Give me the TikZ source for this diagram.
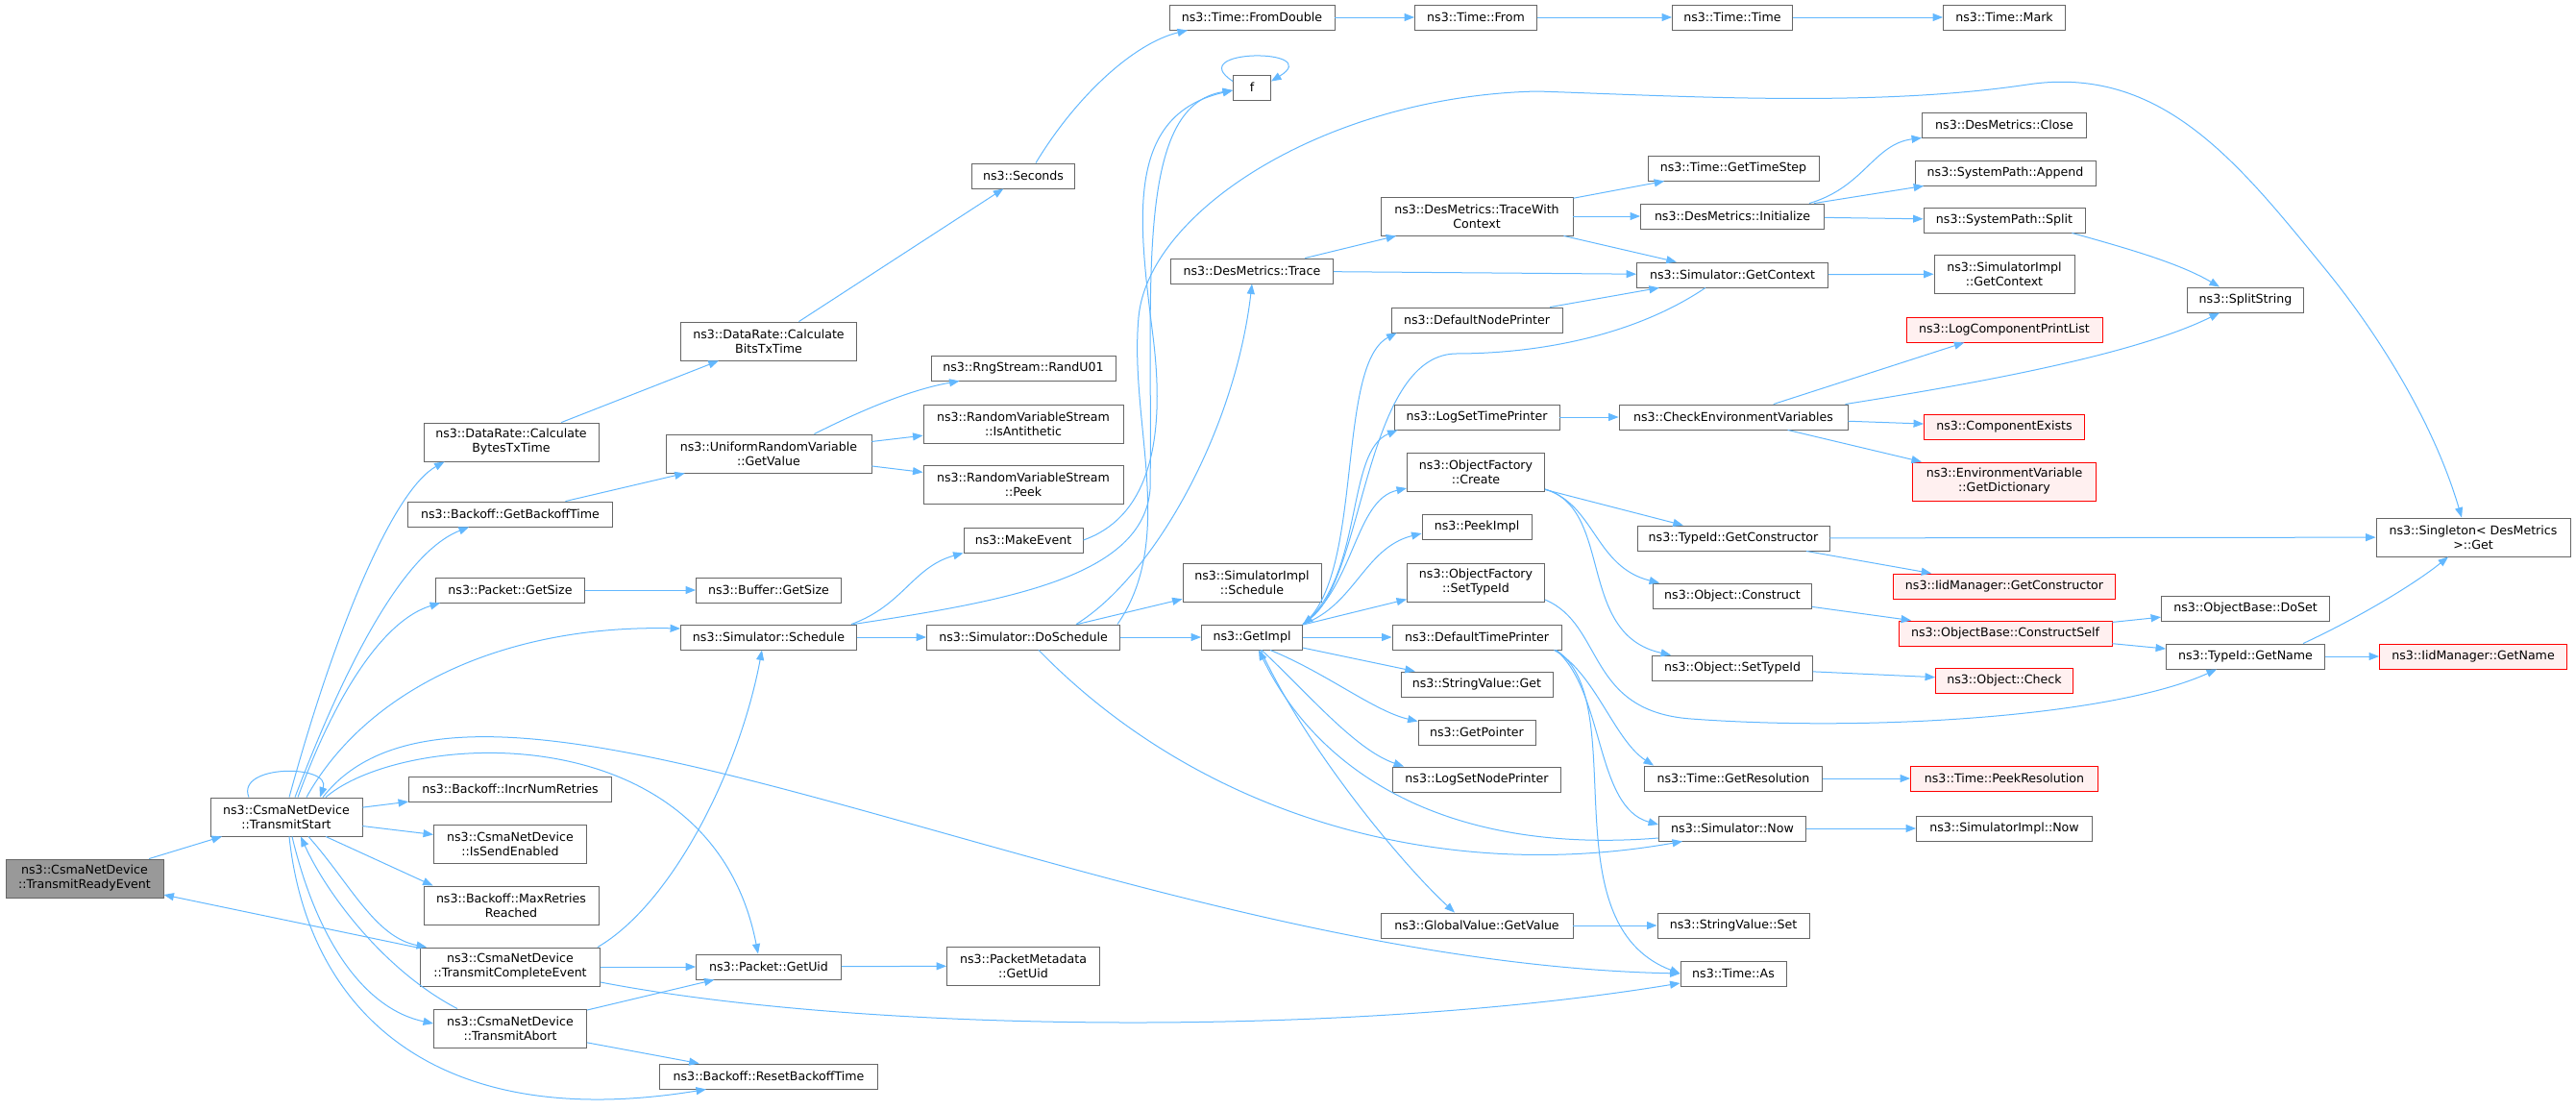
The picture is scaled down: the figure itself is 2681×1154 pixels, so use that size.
\documentclass[tikz,border=0pt]{standalone}
\usepackage{fontspec}
\setmainfont{DejaVu Sans}
\usepackage{tikz}
\usetikzlibrary{arrows.meta,calc}
\definecolor{edgeblue}{RGB}{99,184,255}
\definecolor{boxgray}{RGB}{102,102,102}
\definecolor{rootgray}{RGB}{153,153,153}
\definecolor{truncred}{RGB}{255,0,0}
\definecolor{truncfill}{RGB}{255,240,240}
\tikzset{
    call/.style   = {-{Triangle[length=10.5pt,width=8pt]}, draw=edgeblue, line width=1pt},
    fn/.style     = {draw=boxgray, fill=white, line width=0.9pt,
            minimum height=26pt, inner sep=1pt, align=center,
            font=\fontsize{12.6}{15}\selectfont},
    fnTwo/.style  = {fn, minimum height=40pt},
    root/.style   = {fnTwo, fill=rootgray},
    trunc/.style  = {fn, draw=truncred, fill=truncfill},
}

\begin{document}
\begin{tikzpicture}[x=1pt, y=-1pt]
    \useasboundingbox (0,0) rectangle (2681,1154);
    % Nodes
    \node[root, minimum width=164] (TransmitReadyEvent) at (88,914) {ns3::CsmaNetDevice\\::TransmitReadyEvent};
    \node[fnTwo, minimum width=158] (TransmitStart) at (298,850) {ns3::CsmaNetDevice\\::TransmitStart};

    \node[fnTwo, minimum width=182] (BytesTxTime) at (532,460) {ns3::DataRate::Calculate\\BytesTxTime};
    \node[fn, minimum width=213] (GetBackoffTime) at (531,535) {ns3::Backoff::GetBackoffTime};
    \node[fn, minimum width=155] (PacketGetSize) at (531,614) {ns3::Packet::GetSize};
    \node[fn, minimum width=211] (IncrNumRetries) at (531,821) {ns3::Backoff::IncrNumRetries};
    \node[fnTwo, minimum width=159] (IsSendEnabled) at (531,878) {ns3::CsmaNetDevice\\::IsSendEnabled};
    \node[fnTwo, minimum width=182] (MaxRetriesReached) at (532,942) {ns3::Backoff::MaxRetries\\Reached};
    \node[fnTwo, minimum width=187] (TransmitCompleteEvent) at (531,1006) {ns3::CsmaNetDevice\\::TransmitCompleteEvent};
    \node[fnTwo, minimum width=159] (TransmitAbort) at (531,1070) {ns3::CsmaNetDevice\\::TransmitAbort};

    \node[fnTwo, minimum width=183] (BitsTxTime) at (800,355) {ns3::DataRate::Calculate\\BitsTxTime};
    \node[fnTwo, minimum width=214] (UniformGetValue) at (800,472) {ns3::UniformRandomVariable\\::GetValue};
    \node[fn, minimum width=151] (BufferGetSize) at (800,614) {ns3::Buffer::GetSize};
    \node[fn, minimum width=183] (SimSchedule) at (800,663) {ns3::Simulator::Schedule};
    \node[fn, minimum width=151] (PacketGetUid) at (800,1006) {ns3::Packet::GetUid};
    \node[fn, minimum width=227] (ResetBackoffTime) at (800,1120) {ns3::Backoff::ResetBackoffTime};

    \node[fn, minimum width=107] (Seconds) at (1065,183) {ns3::Seconds};
    \node[fn, minimum width=192] (RandU01) at (1065,383) {ns3::RngStream::RandU01};
    \node[fnTwo, minimum width=208] (IsAntithetic) at (1065,441) {ns3::RandomVariableStream\\::IsAntithetic};
    \node[fnTwo, minimum width=208] (StreamPeek) at (1065,504) {ns3::RandomVariableStream\\::Peek};
    \node[fn, minimum width=124] (MakeEvent) at (1065,562) {ns3::MakeEvent};
    \node[fn, minimum width=201] (DoSchedule) at (1065,663) {ns3::Simulator::DoSchedule};
    \node[fnTwo, minimum width=159] (MetadataGetUid) at (1065,1005) {ns3::PacketMetadata\\::GetUid};

    \node[fn, minimum width=172] (FromDouble) at (1303,18) {ns3::Time::FromDouble};
    \node[fn, minimum width=39] (f) at (1303,91) {f};
    \node[fn, minimum width=169] (Trace) at (1303,282) {ns3::DesMetrics::Trace};
    \node[fnTwo, minimum width=144] (ImplSchedule) at (1303,606) {ns3::SimulatorImpl\\::Schedule};
    \node[fn, minimum width=105] (GetImpl) at (1303,663) {ns3::GetImpl};

    \node[fn, minimum width=127] (TimeFrom) at (1536,18) {ns3::Time::From};
    \node[fnTwo, minimum width=200] (TraceWithContext) at (1537,225) {ns3::DesMetrics::TraceWith\\Context};
    \node[fn, minimum width=178] (DefaultNodePrinter) at (1537,333) {ns3::DefaultNodePrinter};
    \node[fn, minimum width=172] (LogSetTimePrinter) at (1537,434) {ns3::LogSetTimePrinter};
    \node[fnTwo, minimum width=143] (FactoryCreate) at (1536,491) {ns3::ObjectFactory\\::Create};
    \node[fn, minimum width=114] (PeekImpl) at (1537,548) {ns3::PeekImpl};
    \node[fnTwo, minimum width=143] (FactorySetTypeId) at (1536,606) {ns3::ObjectFactory\\::SetTypeId};
    \node[fn, minimum width=176] (DefaultTimePrinter) at (1537,663) {ns3::DefaultTimePrinter};
    \node[fn, minimum width=158] (StringValueGet) at (1537,712) {ns3::StringValue::Get};
    \node[fn, minimum width=122] (GetPointer) at (1537,762) {ns3::GetPointer};
    \node[fn, minimum width=175] (LogSetNodePrinter) at (1537,811) {ns3::LogSetNodePrinter};
    \node[fn, minimum width=200] (GlobalGetValue) at (1537,963) {ns3::GlobalValue::GetValue};

    \node[fn, minimum width=125] (TimeTime) at (1803,18) {ns3::Time::Time};
    \node[fn, minimum width=178] (GetTimeStep) at (1804,175) {ns3::Time::GetTimeStep};
    \node[fn, minimum width=191] (Initialize) at (1803,225) {ns3::DesMetrics::Initialize};
    \node[fn, minimum width=199] (SimGetContext) at (1803,286) {ns3::Simulator::GetContext};
    \node[fn, minimum width=238] (CheckEnv) at (1804,434) {ns3::CheckEnvironmentVariables};
    \node[fn, minimum width=200] (GetConstructor) at (1804,560) {ns3::TypeId::GetConstructor};
    \node[fn, minimum width=165] (ObjConstruct) at (1803,620) {ns3::Object::Construct};
    \node[fn, minimum width=167] (ObjSetTypeId) at (1803,695) {ns3::Object::SetTypeId};
    \node[fn, minimum width=185] (GetResolution) at (1804,810) {ns3::Time::GetResolution};
    \node[fn, minimum width=153] (SimNow) at (1803,862) {ns3::Simulator::Now};
    \node[fn, minimum width=158] (StringValueSet) at (1804,963) {ns3::StringValue::Set};
    \node[fn, minimum width=110] (TimeAs) at (1804,1013) {ns3::Time::As};

    \node[fn, minimum width=127] (TimeMark) at (2086,18) {ns3::Time::Mark};
    \node[fn, minimum width=171] (MetricsClose) at (2086,130) {ns3::DesMetrics::Close};
    \node[fn, minimum width=188] (PathAppend) at (2087,180) {ns3::SystemPath::Append};
    \node[fn, minimum width=168] (PathSplit) at (2086,229) {ns3::SystemPath::Split};
    \node[fnTwo, minimum width=146] (ImplGetContext) at (2086,285) {ns3::SimulatorImpl\\::GetContext};
    \node[trunc, minimum width=204] (LogComponentPrintList) at (2086,343) {ns3::LogComponentPrintList};
    \node[trunc, minimum width=167] (ComponentExists) at (2086,444) {ns3::ComponentExists};
    \node[trunc, minimum width=191, minimum height=40] (GetDictionary) at (2086,501) {ns3::EnvironmentVariable\\::GetDictionary};
    \node[trunc, minimum width=231] (IidGetConstructor) at (2086,610) {ns3::IidManager::GetConstructor};
    \node[trunc, minimum width=222] (ConstructSelf) at (2087,659) {ns3::ObjectBase::ConstructSelf};
    \node[trunc, minimum width=143] (ObjCheck) at (2086,708) {ns3::Object::Check};
    \node[trunc, minimum width=195] (PeekResolution) at (2086,810) {ns3::Time::PeekResolution};
    \node[fn, minimum width=183] (ImplNow) at (2086,862) {ns3::SimulatorImpl::Now};

    \node[fn, minimum width=121] (SplitString) at (2337,312) {ns3::SplitString};
    \node[fn, minimum width=175] (DoSet) at (2337,633) {ns3::ObjectBase::DoSet};
    \node[fn, minimum width=165] (GetName) at (2337,683) {ns3::TypeId::GetName};

    \node[fnTwo, minimum width=202] (SingletonGet) at (2574,559) {ns3::Singleton< DesMetrics\\ >::Get};
    \node[trunc, minimum width=195] (IidGetName) at (2574,683) {ns3::IidManager::GetName};

    % Arrows
    \draw[call] (TransmitReadyEvent) -- (TransmitStart);
    \draw[call] (TransmitCompleteEvent) -- (TransmitReadyEvent);
    \draw[call] ([xshift=-39]TransmitStart.north) .. controls (245,795) and (345,795) .. ([xshift=35]TransmitStart.north);
    \draw[call] ([xshift=3]TransmitStart.north) .. controls (350,650) and (410,510) .. ([xshift=22]BytesTxTime.south west);
    \draw[call] ([xshift=9]TransmitStart.north) .. controls (360,690) and (420,575) .. ([xshift=-43]GetBackoffTime.south);
    \draw[call] ([xshift=12]TransmitStart.north) .. controls (350,720) and (400,645) .. ([xshift=5]PacketGetSize.south west);
    \draw[call] ([xshift=21]TransmitStart.north) .. controls (380,720) and (520,650) .. ([yshift=9]SimSchedule.west);
    \draw[call] ([xshift=41]TransmitStart.north) .. controls (420,760) and (740,740) .. ([xshift=-11]PacketGetUid.north);
    \draw[call] ([xshift=38]TransmitStart.north) .. controls (500,620) and (1150,1000) .. (TimeAs.west);
    \draw[call] (TransmitStart) -- (IncrNumRetries);
    \draw[call] (TransmitStart) -- (IsSendEnabled);
    \draw[call] ([xshift=41]TransmitStart.south) -- ([xshift=10]MaxRetriesReached.north west);
    \draw[call] ([xshift=23]TransmitStart.south) .. controls (365,920) and (390,975) .. ([xshift=7]TransmitCompleteEvent.north west);
    \draw[call] ([xshift=6]TransmitStart.south) .. controls (330,980) and (380,1050) .. ([yshift=5]TransmitAbort.west);
    \draw[call] ([xshift=3]TransmitStart.south) .. controls (320,1050) and (450,1180) .. ([xshift=-65]ResetBackoffTime.south);
    \draw[call] ([xshift=-55]TransmitAbort.north) .. controls (400,1010) and (340,930) .. ([xshift=15]TransmitStart.south);

    \draw[call] ([xshift=-3]TransmitCompleteEvent.north east) .. controls (700,940) and (770,800) .. ([xshift=-7]SimSchedule.south);
    \draw[call] (TransmitCompleteEvent) -- (PacketGetUid);
    \draw[call] ([yshift=-16]TransmitCompleteEvent.east) .. controls (900,1075) and (1400,1080) .. ([yshift=-10]TimeAs.west);
    \draw[call] (TransmitAbort) -- (PacketGetUid);
    \draw[call] (TransmitAbort) -- (ResetBackoffTime);

    \draw[call] (BytesTxTime) -- (BitsTxTime);
    \draw[call] (BitsTxTime) -- (Seconds);
    \draw[call] ([xshift=13]Seconds.north) .. controls (1120,100) and (1180,45) .. ([xshift=-67]FromDouble.south);
    \draw[call] (FromDouble) -- (TimeFrom);
    \draw[call] (TimeFrom) -- (TimeTime);
    \draw[call] (TimeTime) -- (TimeMark);
    \draw[call] (GetBackoffTime) -- (UniformGetValue);
    \draw[call] ([xshift=-60]UniformGetValue.north east) .. controls (900,425) and (950,405) .. ([xshift=30]RandU01.south west);
    \draw[call] (UniformGetValue) -- (IsAntithetic);
    \draw[call] (UniformGetValue) -- (StreamPeek);
    \draw[call] (PacketGetSize) -- (BufferGetSize);
    \draw[call] (PacketGetUid) -- (MetadataGetUid);

    \draw[call] ([xshift=-6]SimSchedule.north east) .. controls (940,630) and (950,590) .. (MakeEvent.south west);
    \draw[call] (SimSchedule) -- (DoSchedule);
    \draw[call] ([xshift=-4]SimSchedule.north east) .. controls (1050,625) and (1190,600) .. (1197,509)
        .. controls (1200,300) and (1180,110) .. ([yshift=-3]f.west);
    \draw[call] (MakeEvent.east) .. controls (1190,540) and (1215,470) .. (1200,350)
        .. controls (1185,230) and (1170,120) .. ([yshift=-3]f.west);
    \draw[call] ([yshift=-7]f.north west) .. controls (1230,50) and (1380,50) .. ([yshift=-7]f.north east);
    \draw[call] ([xshift=55]DoSchedule.north) .. controls (1200,600) and (1285,450) .. (Trace.south);
    \draw[call] (DoSchedule) -- (ImplSchedule);
    \draw[call] (DoSchedule) -- (GetImpl);
    \draw[call] ([xshift=16]DoSchedule.south) .. controls (1250,850) and (1500,920) .. ([xshift=25]SimNow.south west);
    \draw[call] ([xshift=98]DoSchedule.north) .. controls (1225,560) and (1175,440) .. (1185,330)
        .. controls (1195,220) and (1380,100) .. (1600,95)
        .. controls (1750,100) and (1950,112) .. (2110,88)
        .. controls (2250,67) and (2330,170) .. (2420,280)
        .. controls (2465,335) and (2530,430) .. ([xshift=-12]SingletonGet.north);

    \draw[call] (Trace) -- (TraceWithContext);
    \draw[call] (Trace) -- (SimGetContext);
    \draw[call] (TraceWithContext) -- (GetTimeStep);
    \draw[call] (TraceWithContext) -- (Initialize);
    \draw[call] ([xshift=-10]TraceWithContext.south east) -- (SimGetContext);
    \draw[call] ([xshift=-16]Initialize.north east) .. controls (1940,195) and (1950,150) .. (MetricsClose.south west);
    \draw[call] (Initialize) -- (PathAppend);
    \draw[call] (Initialize) -- (PathSplit);
    \draw[call] ([xshift=-14]PathSplit.south east) .. controls (2220,260) and (2270,275) .. ([xshift=-27]SplitString.north);
    \draw[call] (SimGetContext) -- (ImplGetContext);
    \draw[call] ([xshift=-28]SimGetContext.south) .. controls (1700,350) and (1600,368) .. (1514,368)
        .. controls (1420,372) and (1420,600) .. (GetImpl.north east);
    \draw[call] (DefaultNodePrinter) -- (SimGetContext);

    \draw[call] (GetImpl.north east) .. controls (1420,600) and (1390,380) .. ([xshift=6]DefaultNodePrinter.south west);
    \draw[call] (GetImpl.north east) .. controls (1420,600) and (1400,470) .. ([xshift=4]LogSetTimePrinter.south west);
    \draw[call] (GetImpl.north east) .. controls (1410,610) and (1410,520) .. ([yshift=-17]FactoryCreate.west);
    \draw[call] (GetImpl.north east) .. controls (1410,630) and (1420,570) .. ([yshift=-7]PeekImpl.west);
    \draw[call] (GetImpl) -- (FactorySetTypeId);
    \draw[call] (GetImpl) -- (DefaultTimePrinter);
    \draw[call] (GetImpl) -- (StringValueGet);
    \draw[call] ([xshift=19]GetImpl.south) .. controls (1380,700) and (1430,740) .. ([yshift=-2]GetPointer.north west);
    \draw[call] ([xshift=10]GetImpl.south) .. controls (1360,720) and (1410,780) .. ([xshift=12]LogSetNodePrinter.north west);
    \draw[call] ([xshift=9]GetImpl.south) .. controls (1360,780) and (1460,900) .. ([xshift=-23]GlobalGetValue.north);
    \draw[call] ([yshift=-10]SimNow.west) .. controls (1500,890) and (1370,800) .. ([xshift=7]GetImpl.south);

    \draw[call] (LogSetTimePrinter) -- (CheckEnv);
    \draw[call] (CheckEnv) -- (LogComponentPrintList);
    \draw[call] ([xshift=-3]CheckEnv.north east) .. controls (2050,400) and (2220,370) .. ([xshift=-27]SplitString.south);
    \draw[call] (CheckEnv) -- (ComponentExists);
    \draw[call] (CheckEnv) -- (GetDictionary);

    \draw[call] (FactoryCreate) -- (GetConstructor);
    \draw[call] ([yshift=-18]FactoryCreate.east) .. controls (1660,525) and (1660,590) .. ([xshift=7]ObjConstruct.north west);
    \draw[call] ([yshift=-18]FactoryCreate.east) .. controls (1680,530) and (1640,660) .. ([xshift=20]ObjSetTypeId.north west);
    \draw[call] ([yshift=-18]FactorySetTypeId.east) .. controls (1670,650) and (1650,740) .. (1760,748)
        .. controls (1950,762) and (2200,745) .. ([xshift=-30]GetName.south);
    \draw[call] (GetConstructor) -- (SingletonGet);
    \draw[call] (GetConstructor) -- (IidGetConstructor);
    \draw[call] (ObjConstruct) -- (ConstructSelf);
    \draw[call] (ObjSetTypeId) -- (ObjCheck);
    \draw[call] (ConstructSelf) -- (DoSet);
    \draw[call] (ConstructSelf) -- (GetName);
    \draw[call] (GetName) -- (IidGetName);
    \draw[call] ([xshift=60]GetName.north) .. controls (2450,645) and (2510,610) .. ([xshift=-26]SingletonGet.south);

    \draw[call] ([xshift=-8]DefaultTimePrinter.south east) .. controls (1660,700) and (1680,770) .. ([xshift=10]GetResolution.north west);
    \draw[call] ([xshift=-6]DefaultTimePrinter.south east) .. controls (1670,720) and (1660,840) .. ([yshift=4]SimNow.west);
    \draw[call] ([xshift=-6]DefaultTimePrinter.south east) .. controls (1700,730) and (1610,960) .. (TimeAs.west);
    \draw[call] (GetResolution) -- (PeekResolution);
    \draw[call] (SimNow) -- (ImplNow);
    \draw[call] (GlobalGetValue) -- (StringValueSet);
\end{tikzpicture}
\end{document}
